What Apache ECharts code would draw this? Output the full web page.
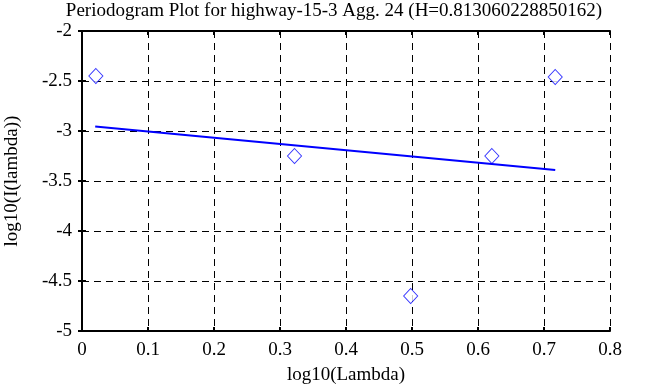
<!DOCTYPE html>
<html><head><meta charset="utf-8">
<script src="https://cdn.jsdelivr.net/npm/echarts@6/dist/echarts.min.js"></script>
<style>html,body{margin:0;padding:0;background:#fff}#c{width:668px;height:387px}</style>
</head><body><div id="c"></div>
<script>
const titleText = 'Periodogram Plot for highway-15-3 Agg. 24 (H=0.813060228850162)';
const xName = 'log10(Lambda)';
const yName = 'log10(I(lambda))';
const pointX = [0.021, 0.322, 0.498, 0.621, 0.717];
const pointY = [-2.45, -3.25, -4.65, -3.25, -2.46];
const fitX = [0.02, 0.717];
const fitY = [-2.955, -3.39];
const xTicks = [0, 0.1, 0.2, 0.3, 0.4, 0.5, 0.6, 0.7, 0.8];
const yTicks = [-5, -4.5, -4, -3.5, -3, -2.5, -2];

const font = 'Liberation Serif';
const fs = 19;
const chart = echarts.init(document.getElementById('c'));
const dashed = {show:true, lineStyle:{color:'#000', type:[7,5], width:1}};
chart.setOption({
  animation:false,
  backgroundColor:'#fff',
  title:{text:titleText, left:'center', top:-3, textStyle:{fontFamily:font, fontWeight:'normal', fontSize:fs, color:'#000'}},
  grid:{left:82, right:58, top:31, bottom:56, containLabel:false, outerBoundsMode:'none'},
  xAxis:[{
    type:'value', min:xTicks[0], max:xTicks[xTicks.length-1], interval:0.1,
    name:xName, nameLocation:'middle', nameGap:35,
    nameTextStyle:{fontFamily:font, fontSize:fs, color:'#000'},
    axisLine:{lineStyle:{color:'#000', width:2}},
    axisTick:{inside:true, length:4, lineStyle:{color:'#000', width:2}},
    axisLabel:{fontFamily:font, fontSize:fs, color:'#000', margin:10, formatter:v=>String(+v.toFixed(1))},
    splitLine:dashed
  },{
    type:'value', position:'top', min:xTicks[0], max:xTicks[xTicks.length-1], interval:0.1,
    axisLine:{show:true, lineStyle:{color:'#000', width:2}},
    axisTick:{show:true, inside:true, length:4, lineStyle:{color:'#000', width:2}},
    axisLabel:{show:false}, splitLine:{show:false}
  }],
  yAxis:[{
    type:'value', min:yTicks[0], max:yTicks[yTicks.length-1], interval:0.5,
    name:yName, nameLocation:'middle', nameGap:60,
    nameTextStyle:{fontFamily:font, fontSize:fs, color:'#000'},
    axisLine:{show:true, lineStyle:{color:'#000', width:2}},
    axisTick:{show:true, inside:true, length:4, lineStyle:{color:'#000', width:2}},
    axisLabel:{fontFamily:font, fontSize:fs, color:'#000', margin:10},
    splitLine:dashed
  },{
    type:'value', position:'right', min:yTicks[0], max:yTicks[yTicks.length-1], interval:0.5,
    axisLine:{show:true, lineStyle:{color:'#000', width:2}},
    axisTick:{show:true, inside:true, length:4, lineStyle:{color:'#000', width:2}},
    axisLabel:{show:false}, splitLine:{show:false}
  }],
  series:[{
    type:'scatter', symbol:'diamond', symbolSize:[14,15],
    itemStyle:{color:'#fff', borderColor:'#0000ff', borderWidth:1},
    data:pointX.map((x,i)=>[x, pointY[i]])
  },{
    type:'line', showSymbol:false, symbol:'none',
    lineStyle:{color:'#0000ff', width:2},
    data:fitX.map((x,i)=>[x, fitY[i]])
  }]
});
</script></body></html>
